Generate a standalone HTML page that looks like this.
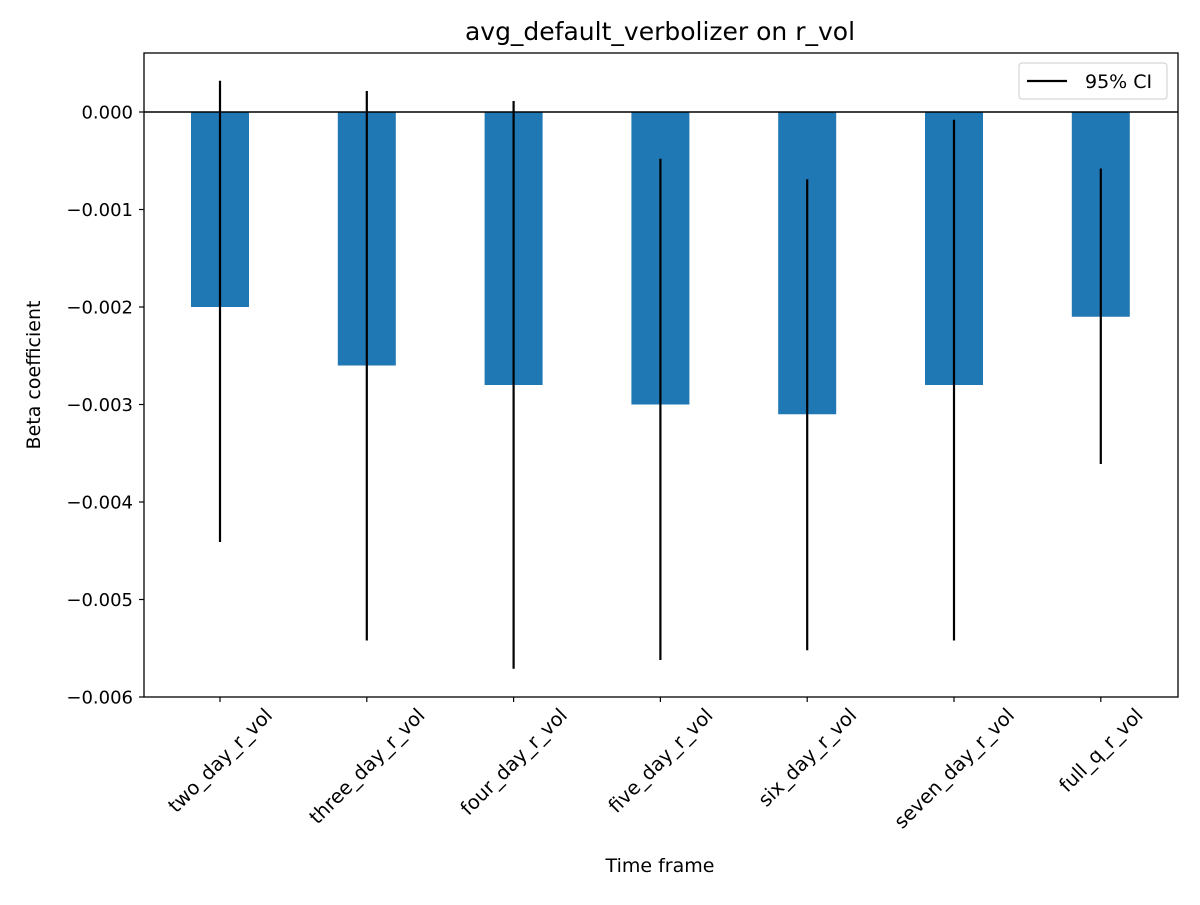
<!DOCTYPE html>
<html><head><meta charset="utf-8"><style>
body{margin:0;background:#fff}
text{font-family:"DejaVu Sans","Liberation Sans",sans-serif;fill:#000}
</style></head><body>
<svg id="chart" width="1200" height="900" viewBox="0 0 1200 900">
<rect width="1200" height="900" fill="#fff"/>
<text x="660" y="40" font-size="25" text-anchor="middle">avg_default_verbolizer on r_vol</text>
<g id="bars"></g>
<g id="errs"></g>
<line x1="144" x2="1178" y1="112" y2="112" stroke="#000" stroke-width="1.5"/>
<rect x="144" y="53" width="1034" height="644" fill="none" stroke="#000" stroke-width="1.3"/>
<g id="yticks"></g>
<g id="xticks"></g>
<text x="660" y="872" font-size="19" text-anchor="middle">Time frame</text>
<text transform="translate(40,375) rotate(-90)" font-size="19" text-anchor="middle">Beta coefficient</text>
<g>
<rect x="1019" y="63" width="148" height="36" rx="3" fill="#fff" stroke="#ccc"/>
<line x1="1027" x2="1067" y1="81" y2="81" stroke="#000" stroke-width="2.2"/>
<text x="1085" y="88" font-size="19">95% CI</text>
</g>
</svg>
<script>
const categories=["two_day_r_vol","three_day_r_vol","four_day_r_vol","five_day_r_vol","six_day_r_vol","seven_day_r_vol","full_q_r_vol"];
const betas=[-0.002,-0.0026,-0.0028,-0.003,-0.0031,-0.0028,-0.0021];
const ciLow=[-0.00441,-0.00542,-0.00571,-0.00562,-0.00552,-0.00542,-0.00361];
const ciHigh=[0.00032,0.000215,0.000113,-0.00048,-0.00069,-0.00008,-0.00058];
const yTicks=[0,-0.001,-0.002,-0.003,-0.004,-0.005,-0.006];
const yTickLabels=["0.000","\u22120.001","\u22120.002","\u22120.003","\u22120.004","\u22120.005","\u22120.006"];
const NS="http://www.w3.org/2000/svg";
const band=146.8;
const xs=i=>220+band*i;
const ys=v=>112-v/0.001*97.5;
function mk(tag,attrs,parent){const e=document.createElementNS(NS,tag);for(const k in attrs)e.setAttribute(k,attrs[k]);document.getElementById(parent).appendChild(e);return e;}
const bw=58;
categories.forEach((c,i)=>{
 const b=mk('rect',{x:xs(i)-bw/2,y:ys(0),width:bw,height:ys(betas[i])-ys(0),fill:'#1f77b4'},'bars');
 
 
 const e=mk('line',{x1:xs(i),x2:xs(i),y1:ys(ciHigh[i]),y2:ys(ciLow[i]),stroke:'#000','stroke-width':2.2},'errs');
 
 
 const t=mk('line',{x1:xs(i),x2:xs(i),y1:697,y2:702,stroke:'#000','stroke-width':1.2},'xticks');
 
 
 const lb=mk('text',{'font-size':19.5,'text-anchor':'middle',x:0,y:0,dy:'0.35em'},'xticks');
 lb.textContent=c;
 
 
 const len=lb.getComputedTextLength();
 const side=(len+16)*0.7071;
 const cy=706+side/2;
 lb.setAttribute('transform','translate('+xs(i)+','+cy+') rotate(-45)');
});
yTicks.forEach((v,i)=>{
 const t=mk('line',{x1:139,x2:144,y1:ys(v),y2:ys(v),stroke:'#000','stroke-width':1.2},'yticks');
 
 
 const lb=mk('text',{x:133,y:ys(v)+6.5,'font-size':18,'text-anchor':'end'},'yticks');
 lb.textContent=yTickLabels[i];
 
 
});
</script>
</body></html>
